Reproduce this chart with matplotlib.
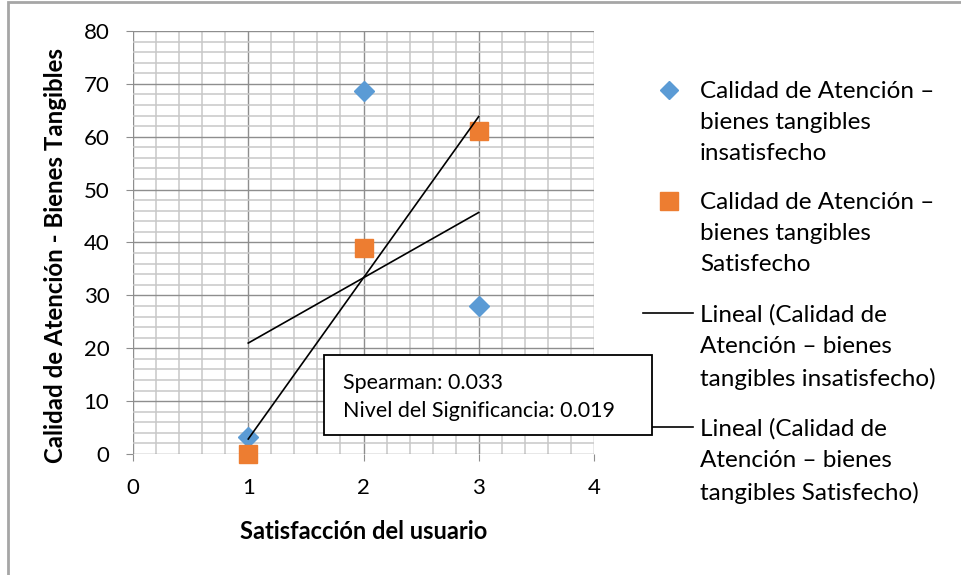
import numpy as np
import matplotlib.pyplot as plt
from matplotlib.lines import Line2D
from matplotlib.patches import Rectangle
from matplotlib.ticker import MultipleLocator

plt.rcParams['font.family'] = ['Lato', 'DejaVu Sans']

# data
x_vals = [1, 2, 3]
insatisfecho = [3.3, 68.7, 28.0]
satisfecho = [0.0, 39.0, 61.0]
spearman_txt = ["Spearman: 0.033", "Nivel del Significancia: 0.019"]
legend_labels = [
    "Calidad de Atención –\nbienes tangibles\ninsatisfecho",
    "Calidad de Atención –\nbienes tangibles\nSatisfecho",
    "Lineal (Calidad de\nAtención – bienes\ntangibles insatisfecho)",
    "Lineal (Calidad de\nAtención – bienes\ntangibles Satisfecho)",
]
x_label = "Satisfacción del usuario"
y_label = "Calidad de Atención - Bienes Tangibles"

BLUE = "#5B9BD5"
ORANGE = "#ED7D31"
W, H = 961, 575

fig = plt.figure(figsize=(W / 100, H / 100), dpi=100)
ax = fig.add_axes([133 / W, 1 - 454 / H, (594 - 133) / W, (454 - 31) / H])

ax.set_xlim(0, 4)
ax.set_ylim(0, 80)
ax.xaxis.set_major_locator(MultipleLocator(1))
ax.xaxis.set_minor_locator(MultipleLocator(0.2))
ax.yaxis.set_major_locator(MultipleLocator(10))
ax.yaxis.set_minor_locator(MultipleLocator(2))
ax.grid(which='major', color='#8e8e8e', linewidth=1.0, zorder=0)
ax.grid(which='minor', color='#c8c8c8', linewidth=1.1, zorder=0)
ax.set_axisbelow(True)
for s in ax.spines.values():
    s.set_visible(False)
ax.tick_params(which='major', direction='out', length=5, color='#8e8e8e',
               labelsize=16, labelcolor='black')
ax.tick_params(axis='x', pad=12)
ax.tick_params(axis='y', pad=12)
ax.tick_params(which='minor', length=0)

xs = np.array(x_vals, dtype=float)
ax.plot(xs, insatisfecho, linestyle='none', marker='D', ms=10, color=BLUE,
        zorder=3, clip_on=False)
ax.plot(xs, satisfecho, linestyle='none', marker='s', ms=13.5, color=ORANGE,
        zorder=3, clip_on=False)

# linear trend lines
for ys in (insatisfecho, satisfecho):
    k, b = np.polyfit(xs, ys, 1)
    ax.plot([xs[0], xs[-1]], [k * xs[0] + b, k * xs[-1] + b], color='black',
            linewidth=1.2, zorder=4)

ax.set_xlabel(x_label, fontsize=17, fontweight='bold', labelpad=16)
ax.set_ylabel(y_label, fontsize=17.3, fontweight='bold')
ax.yaxis.set_label_coords(-0.143, 0.47)

# chart border (left / top visible)
fig.patches.append(Rectangle((8 / W, -0.1), 1.2, 1 - 1.5 / H + 0.1,
                             transform=fig.transFigure, fill=False,
                             edgecolor='#a6a6a6', linewidth=2))

# manual legend, handles aligned with first text line
entries_y = [90, 201, 313, 427]
tx = 700 / W
for i, (yy, lab) in enumerate(zip(entries_y, legend_labels)):
    fy = 1 - yy / H
    if i == 0:
        fig.add_artist(Line2D([669 / W], [fy], marker='D', ms=9, color=BLUE,
                              linestyle='none', transform=fig.transFigure))
    elif i == 1:
        fig.add_artist(Line2D([669 / W], [fy], marker='s', ms=12.5, color=ORANGE,
                              linestyle='none', transform=fig.transFigure))
    else:
        fig.add_artist(Line2D([643 / W, 693 / W], [fy, fy], color='black',
                              linewidth=1.2, transform=fig.transFigure))
    fig.text(tx, fy + 9 / H, lab, fontsize=17.5, va='top', ha='left',
             linespacing=1.6, transform=fig.transFigure)

# statistics box
box = Rectangle((324 / W, 1 - 435 / H), (652 - 324) / W, (435 - 355) / H,
                transform=fig.transFigure, facecolor='white', edgecolor='black',
                linewidth=1.3, zorder=5)
fig.add_artist(box)
fig.text(343 / W, 1 - 397 / H, "\n".join(spearman_txt), fontsize=15.5,
         va='center', ha='left', linespacing=1.52, zorder=6)

fig.savefig("out.png", dpi=100, facecolor='white')
